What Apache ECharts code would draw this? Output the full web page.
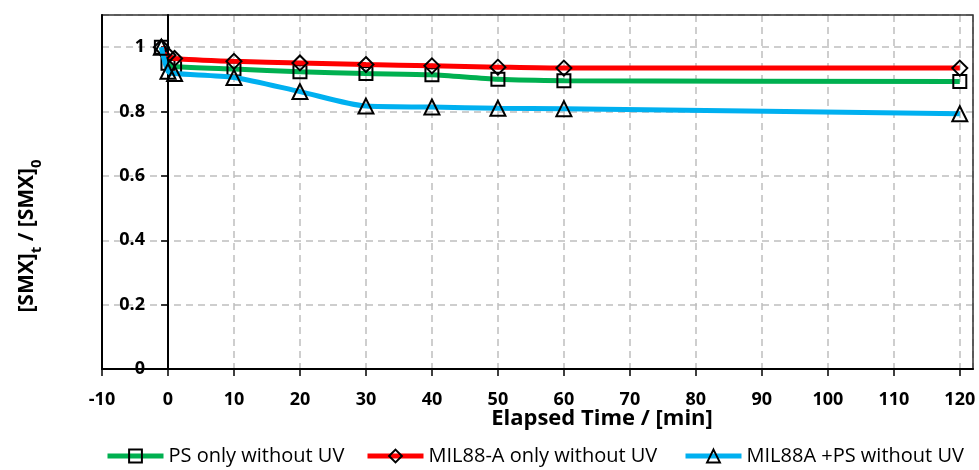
<!DOCTYPE html>
<html><head><meta charset="utf-8">
<script src="https://cdn.jsdelivr.net/npm/echarts@6/dist/echarts.min.js"></script>
<style>html,body{margin:0;padding:0;background:#fff}#c{width:979px;height:470px}</style>
</head><body><div id="c"></div>
<script>
const times = [-1, 0, 1, 10, 20, 30, 40, 50, 60, 120];
const psOnly = [1.0, 0.95, 0.94, 0.932, 0.924, 0.918, 0.914, 0.900, 0.896, 0.893];
const milOnly = [1.0, 0.975, 0.965, 0.956, 0.951, 0.946, 0.942, 0.938, 0.935, 0.935];
const milPs = [1.0, 0.925, 0.918, 0.906, 0.862, 0.817, 0.814, 0.810, 0.809, 0.793];
const xTicks = [-10, 0, 10, 20, 30, 40, 50, 60, 70, 80, 90, 100, 110, 120];
const yTicks = [0, 0.2, 0.4, 0.6, 0.8, 1];
const seriesNames = ['PS only without UV', 'MIL88-A only without UV', 'MIL88A +PS without UV'];
const seriesData = [psOnly, milOnly, milPs];
const colors = ['#00B050', '#FF0000', '#00B0F0'];
const symbols = ['rect', 'diamond', 'triangle'];
const symbolSizes = [13, 15, 15];
const legendLefts = [105, 365, 683];

const FONT = 'Open Sans';
const chart = echarts.init(document.getElementById('c'), null, {renderer: 'canvas'});
const gridLine = {show: true, lineStyle: {color: '#BFBFBF', width: 1.5, type: [7, 5]}};
const axisText = {fontFamily: FONT, fontWeight: 'bold', fontSize: 18, color: '#000'};

function buildOption(yOffset) {
  return {
    animation: false,
    backgroundColor: '#fff',
    grid: {left: 102, right: 6, top: 15, bottom: 101, show: true, borderColor: '#333', borderWidth: 1.5, z: 1},
    xAxis: [
      {type: 'value', min: -10, max: 122, interval: 10, z: 0,
        axisLine: {show: false}, axisTick: {show: false}, axisLabel: {show: false},
        splitLine: gridLine},
      {type: 'value', min: -10, max: 122, interval: 10, z: 1, position: 'bottom',
        axisLine: {show: true, onZero: false, lineStyle: {color: '#000', width: 2}},
        axisTick: {show: true, length: 7, customValues: xTicks, lineStyle: {color: '#000', width: 1.5}},
        axisLabel: Object.assign({customValues: xTicks, margin: 22,
          formatter: v => (xTicks.indexOf(v) >= 0 ? String(v) : '')}, axisText),
        splitLine: {show: false}}
    ],
    yAxis: [
      {type: 'value', min: 0, max: 1.1, interval: 0.2, z: 0,
        axisLine: {show: false}, axisTick: {show: false}, axisLabel: {show: false},
        splitLine: gridLine},
      {type: 'value', min: 0, max: 1.1, interval: 0.2, z: 1, position: 'left', offset: yOffset,
        axisLine: {show: true, onZero: false, lineStyle: {color: '#000', width: 2}},
        axisTick: {show: true, length: 7, customValues: yTicks, lineStyle: {color: '#000', width: 1.5}},
        axisLabel: Object.assign({customValues: yTicks, margin: 23,
          formatter: v => (yTicks.some(t => Math.abs(t - v) < 1e-9) ? String(Math.round(v * 10) / 10) : '')}, axisText),
        splitLine: {show: false}},
      {type: 'value', min: 0, max: 1.1, z: 1, position: 'left', offset: 0,
        axisLine: {show: true, onZero: false, lineStyle: {color: '#000', width: 2}},
        axisTick: {show: false}, axisLabel: {show: false}, splitLine: {show: false}}
    ],
    legend: seriesNames.map((n, i) => ({
      data: [n], left: legendLefts[i], top: 446, itemWidth: 56, itemHeight: 16, padding: 0,
      lineStyle: {width: 5},
      itemStyle: {borderWidth: 2},
      textStyle: {fontFamily: FONT, fontSize: 20, color: '#000'}
    })),
    graphic: [
      {type: 'text', x: 602, y: 419, z: 10,
        style: {text: 'Elapsed Time / [min]', fontFamily: FONT, fontWeight: 'bold', fontSize: 22, fill: '#000', align: 'center', verticalAlign: 'middle'}},
      {type: 'text', x: 27, y: 236, rotation: Math.PI / 2, z: 10,
        style: {text: '{a|[SMX]}{b|t}{a| / [SMX]}{b|0}', align: 'center', verticalAlign: 'middle',
          rich: {
            a: {fontFamily: FONT, fontWeight: 'bold', fontSize: 21, fill: '#000', lineHeight: 34, verticalAlign: 'middle'},
            b: {fontFamily: FONT, fontWeight: 'bold', fontSize: 15, fill: '#000', verticalAlign: 'bottom'}
          }}}
    ],
    series: seriesNames.map((n, i) => ({
      name: n, type: 'line', xAxisIndex: 0, yAxisIndex: 0, z: 3 + i,
      data: times.map((t, k) => [t, seriesData[i][k]]),
      smooth: 0.25,
      symbol: symbols[i], symbolSize: symbolSizes[i],
      lineStyle: {color: colors[i], width: 5},
      itemStyle: {color: 'rgba(255,255,255,0)', borderColor: '#000', borderWidth: 2},
      emphasis: {disabled: true}
    }))
  };
}
chart.setOption(buildOption(0));
// place the value axis where x = 0, using the library's own x scale
const zeroPx = chart.convertToPixel({xAxisIndex: 0}, 0);
const leftPx = chart.convertToPixel({xAxisIndex: 0}, -10);
chart.setOption(buildOption(-(zeroPx - leftPx)));
</script>
</body></html>
